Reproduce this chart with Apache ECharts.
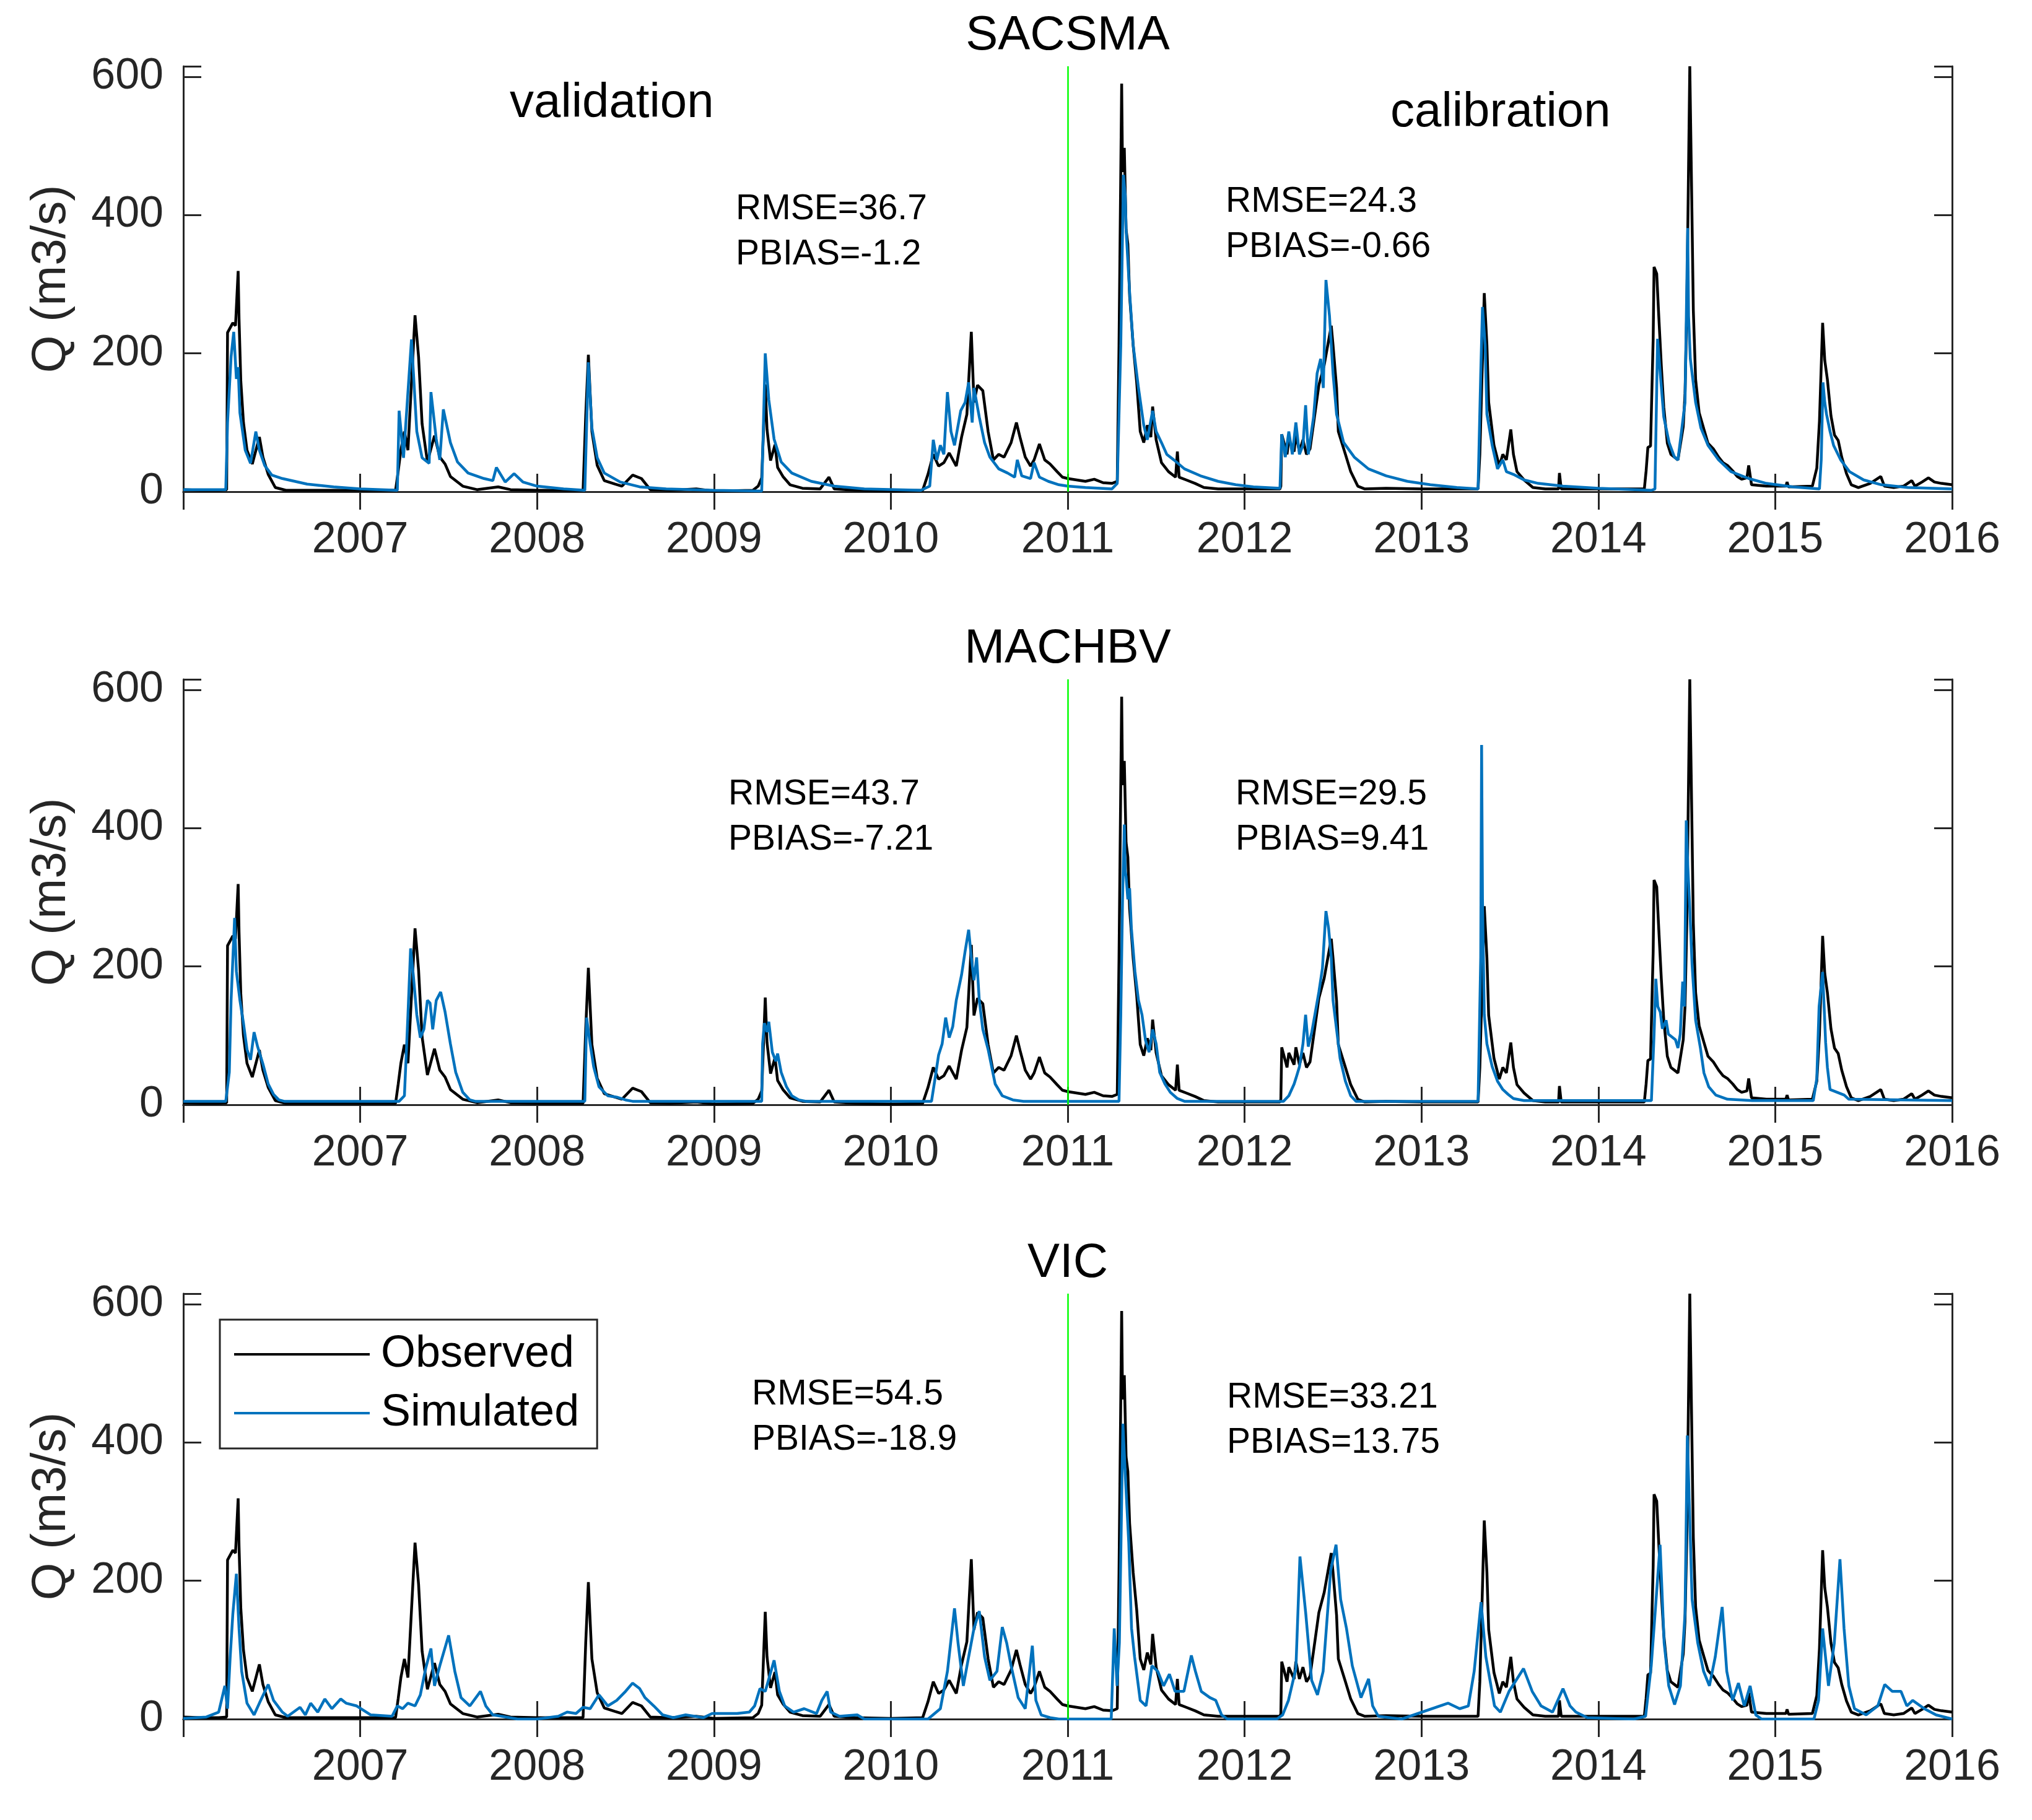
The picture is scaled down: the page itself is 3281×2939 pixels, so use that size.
<!DOCTYPE html>
<html>
<head>
<meta charset="utf-8">
<script src="https://cdn.jsdelivr.net/npm/echarts@6/dist/echarts.min.js"></script>
<style>
  html, body { margin: 0; padding: 0; background: #fff; }
  #chart { width: 3281px; height: 2939px; }
</style>
</head>
<body>
<div id="chart"></div>
<script>
// [decimal year, Q (m3/s)]
const observed = [
  [2006.00, 3], [2006.10, 2], [2006.20, 2], [2006.245, 3], [2006.25, 230], [2006.28, 244], [2006.295, 240],
  [2006.31, 319], [2006.315, 250], [2006.325, 160], [2006.34, 100], [2006.36, 60], [2006.39, 40], [2006.43, 79],
  [2006.45, 50], [2006.48, 25], [2006.52, 6], [2006.58, 2], [2006.80, 2], [2007.00, 2], [2007.20, 2],
  [2007.215, 30], [2007.23, 60], [2007.25, 87], [2007.27, 60], [2007.31, 255], [2007.33, 195], [2007.35, 98],
  [2007.38, 43], [2007.42, 81], [2007.45, 50], [2007.48, 40], [2007.51, 22], [2007.58, 8], [2007.66, 3],
  [2007.78, 7], [2007.85, 3], [2008.00, 2], [2008.26, 2], [2008.275, 110], [2008.29, 198], [2008.31, 87],
  [2008.34, 38], [2008.38, 16], [2008.44, 11], [2008.48, 8], [2008.54, 24], [2008.59, 19], [2008.64, 3],
  [2008.75, 2], [2008.90, 4], [2009.00, 1], [2009.22, 2], [2009.25, 8], [2009.27, 20], [2009.29, 155],
  [2009.30, 90], [2009.32, 45], [2009.345, 68], [2009.36, 35], [2009.39, 22], [2009.43, 10], [2009.50, 5],
  [2009.60, 4], [2009.65, 21], [2009.68, 4], [2009.80, 2], [2010.00, 1], [2010.18, 2], [2010.21, 25],
  [2010.24, 54], [2010.27, 37], [2010.30, 42], [2010.33, 56], [2010.37, 37], [2010.40, 79], [2010.43, 112],
  [2010.455, 231], [2010.47, 129], [2010.49, 154], [2010.52, 146], [2010.55, 87], [2010.58, 46], [2010.61, 54],
  [2010.64, 50], [2010.68, 71], [2010.71, 100], [2010.73, 79], [2010.76, 50], [2010.79, 37], [2010.81, 46],
  [2010.84, 69], [2010.87, 46], [2010.90, 40], [2010.94, 29], [2010.97, 21], [2011.00, 19], [2011.05, 17],
  [2011.10, 15], [2011.15, 18], [2011.20, 13], [2011.25, 12], [2011.28, 15], [2011.29, 212], [2011.305, 590],
  [2011.31, 462], [2011.32, 497], [2011.33, 379], [2011.34, 358], [2011.35, 283], [2011.37, 212], [2011.39, 158],
  [2011.41, 87], [2011.43, 71], [2011.45, 96], [2011.47, 79], [2011.48, 123], [2011.50, 75], [2011.53, 42],
  [2011.57, 29], [2011.61, 21], [2011.62, 58], [2011.63, 21], [2011.67, 17], [2011.72, 12], [2011.77, 6],
  [2011.85, 4], [2012.00, 4], [2012.20, 4], [2012.205, 8], [2012.21, 83], [2012.24, 54], [2012.25, 75],
  [2012.28, 58], [2012.29, 83], [2012.31, 58], [2012.33, 75], [2012.35, 54], [2012.37, 62], [2012.40, 117],
  [2012.42, 154], [2012.45, 183], [2012.49, 240], [2012.50, 212], [2012.52, 150], [2012.53, 87], [2012.57, 54],
  [2012.60, 29], [2012.64, 8], [2012.68, 4], [2012.80, 5], [2013.00, 4], [2013.32, 4], [2013.33, 54],
  [2013.345, 192], [2013.355, 287], [2013.37, 212], [2013.38, 129], [2013.41, 67], [2013.44, 37], [2013.46, 54],
  [2013.48, 46], [2013.505, 90], [2013.52, 54], [2013.54, 29], [2013.58, 17], [2013.63, 6], [2013.70, 4],
  [2013.775, 4], [2013.78, 27], [2013.79, 4], [2014.00, 4], [2014.26, 4], [2014.27, 30], [2014.28, 64],
  [2014.295, 66], [2014.31, 222], [2014.315, 325], [2014.33, 315], [2014.34, 262], [2014.356, 182], [2014.37, 122],
  [2014.39, 70], [2014.41, 54], [2014.43, 50], [2014.45, 46], [2014.46, 62], [2014.48, 94], [2014.49, 142],
  [2014.50, 262], [2014.517, 615], [2014.528, 423], [2014.537, 262], [2014.55, 162], [2014.57, 114], [2014.597, 90],
  [2014.62, 70], [2014.65, 62], [2014.68, 50], [2014.705, 42], [2014.73, 38], [2014.76, 30], [2014.785, 22],
  [2014.81, 18], [2014.84, 20], [2014.85, 38], [2014.866, 10], [2014.95, 8], [2015.06, 8], [2015.067, 14],
  [2015.075, 7], [2015.21, 8], [2015.235, 34], [2015.25, 102], [2015.268, 244], [2015.28, 190], [2015.295, 162],
  [2015.315, 110], [2015.335, 82], [2015.356, 74], [2015.376, 50], [2015.403, 26], [2015.43, 10], [2015.47, 6],
  [2015.537, 12], [2015.597, 22], [2015.617, 8], [2015.67, 6], [2015.725, 8], [2015.772, 16], [2015.79, 8],
  [2015.83, 14], [2015.866, 20], [2015.90, 14], [2015.94, 12], [2016.00, 10]
];

const simSACSMA = [
  [2006.00, 3], [2006.24, 3], [2006.25, 100], [2006.27, 195], [2006.285, 231], [2006.30, 163], [2006.31, 180],
  [2006.32, 114], [2006.35, 60], [2006.38, 41], [2006.41, 87], [2006.43, 60], [2006.46, 38], [2006.50, 24],
  [2006.56, 19], [2006.70, 11], [2006.85, 7], [2007.00, 4], [2007.21, 2], [2007.22, 117], [2007.245, 49],
  [2007.29, 220], [2007.32, 87], [2007.35, 49], [2007.39, 41], [2007.40, 144], [2007.43, 76], [2007.45, 46],
  [2007.47, 119], [2007.51, 71], [2007.55, 43], [2007.61, 27], [2007.70, 19], [2007.75, 16], [2007.77, 35],
  [2007.82, 14], [2007.87, 26], [2007.92, 14], [2008.00, 8], [2008.15, 4], [2008.27, 2], [2008.29, 187],
  [2008.31, 92], [2008.34, 49], [2008.38, 27], [2008.47, 14], [2008.58, 7], [2008.73, 4], [2009.00, 2],
  [2009.27, 1], [2009.29, 200], [2009.31, 133], [2009.34, 76], [2009.38, 43], [2009.44, 27], [2009.55, 15],
  [2009.68, 8], [2009.85, 4], [2010.17, 2], [2010.22, 8], [2010.24, 75], [2010.26, 46], [2010.28, 67],
  [2010.30, 54], [2010.32, 144], [2010.34, 87], [2010.36, 67], [2010.395, 117], [2010.42, 129], [2010.44, 158],
  [2010.46, 100], [2010.47, 150], [2010.50, 108], [2010.53, 71], [2010.56, 50], [2010.61, 33], [2010.66, 27],
  [2010.70, 21], [2010.715, 46], [2010.74, 23], [2010.79, 19], [2010.81, 42], [2010.84, 21], [2010.89, 15],
  [2010.95, 10], [2011.00, 8], [2011.10, 6], [2011.25, 4], [2011.28, 12], [2011.30, 212], [2011.315, 458],
  [2011.325, 429], [2011.33, 379], [2011.35, 288], [2011.37, 212], [2011.40, 150], [2011.43, 96], [2011.45, 75],
  [2011.48, 117], [2011.50, 87], [2011.53, 71], [2011.56, 54], [2011.60, 46], [2011.66, 33], [2011.75, 23],
  [2011.85, 15], [2011.95, 10], [2012.05, 7], [2012.20, 5], [2012.21, 83], [2012.23, 50], [2012.25, 87],
  [2012.27, 54], [2012.29, 100], [2012.31, 54], [2012.33, 67], [2012.345, 125], [2012.36, 54], [2012.39, 108],
  [2012.41, 171], [2012.43, 192], [2012.445, 150], [2012.46, 306], [2012.48, 254], [2012.50, 171], [2012.52, 112],
  [2012.56, 71], [2012.62, 50], [2012.70, 33], [2012.80, 23], [2012.92, 15], [2013.05, 10], [2013.20, 6],
  [2013.32, 4], [2013.335, 171], [2013.345, 267], [2013.36, 212], [2013.37, 112], [2013.40, 67], [2013.43, 33],
  [2013.46, 46], [2013.48, 29], [2013.52, 25], [2013.58, 17], [2013.66, 12], [2013.80, 8], [2014.00, 5],
  [2014.30, 2], [2014.32, 4], [2014.33, 150], [2014.335, 221], [2014.35, 171], [2014.37, 108], [2014.40, 71],
  [2014.43, 50], [2014.45, 46], [2014.47, 87], [2014.49, 129], [2014.505, 381], [2014.51, 254], [2014.52, 192],
  [2014.55, 129], [2014.58, 92], [2014.62, 67], [2014.68, 46], [2014.75, 29], [2014.85, 19], [2014.95, 12],
  [2015.10, 7], [2015.25, 4], [2015.26, 46], [2015.27, 158], [2015.28, 129], [2015.29, 112], [2015.31, 87],
  [2015.33, 67], [2015.37, 46], [2015.42, 29], [2015.50, 17], [2015.60, 10], [2015.75, 6], [2016.00, 4]
];

const simMACHBV = [
  [2006.00, 5], [2006.24, 5], [2006.26, 47], [2006.27, 151], [2006.29, 270], [2006.30, 193], [2006.32, 151],
  [2006.34, 118], [2006.36, 80], [2006.38, 65], [2006.40, 105], [2006.42, 84], [2006.45, 59], [2006.48, 30],
  [2006.51, 15], [2006.54, 7], [2006.57, 5], [2007.22, 5], [2007.25, 13], [2007.27, 130], [2007.285, 226],
  [2007.30, 188], [2007.32, 130], [2007.34, 97], [2007.36, 109], [2007.38, 151], [2007.395, 147], [2007.41, 109],
  [2007.43, 151], [2007.455, 163], [2007.48, 134], [2007.51, 88], [2007.54, 47], [2007.58, 18], [2007.62, 7],
  [2007.65, 5], [2008.27, 5], [2008.28, 126], [2008.30, 88], [2008.32, 55], [2008.35, 26], [2008.40, 13],
  [2008.45, 11], [2008.50, 7], [2008.54, 5], [2009.27, 5], [2009.275, 88], [2009.285, 118], [2009.30, 105],
  [2009.31, 120], [2009.33, 76], [2009.35, 63], [2009.36, 74], [2009.38, 47], [2009.41, 26], [2009.44, 13],
  [2009.48, 7], [2009.52, 5], [2010.23, 5], [2010.25, 38], [2010.27, 72], [2010.29, 88], [2010.31, 126],
  [2010.33, 97], [2010.35, 113], [2010.37, 151], [2010.40, 188], [2010.42, 222], [2010.44, 253], [2010.455, 213],
  [2010.47, 180], [2010.485, 213], [2010.50, 151], [2010.52, 109], [2010.55, 80], [2010.57, 55], [2010.59, 30],
  [2010.63, 13], [2010.69, 7], [2010.75, 5], [2011.29, 5], [2011.30, 130], [2011.31, 297], [2011.32, 405],
  [2011.325, 338], [2011.33, 330], [2011.34, 297], [2011.35, 313], [2011.36, 255], [2011.38, 193], [2011.40, 151],
  [2011.42, 130], [2011.44, 93], [2011.46, 76], [2011.48, 109], [2011.50, 88], [2011.52, 47], [2011.55, 30],
  [2011.58, 18], [2011.62, 9], [2011.66, 5], [2012.22, 5], [2012.25, 13], [2012.28, 30], [2012.29, 38],
  [2012.31, 55], [2012.33, 88], [2012.345, 130], [2012.36, 84], [2012.38, 105], [2012.40, 134], [2012.42, 163],
  [2012.44, 197], [2012.46, 280], [2012.475, 255], [2012.49, 213], [2012.50, 151], [2012.52, 109], [2012.54, 67],
  [2012.57, 34], [2012.60, 13], [2012.63, 5], [2013.32, 5], [2013.335, 213], [2013.34, 520], [2013.345, 297],
  [2013.355, 130], [2013.37, 88], [2013.40, 55], [2013.43, 34], [2013.46, 22], [2013.49, 15], [2013.52, 9],
  [2013.58, 6], [2014.30, 6], [2014.315, 102], [2014.325, 182], [2014.336, 142], [2014.35, 134], [2014.362, 110],
  [2014.383, 122], [2014.396, 102], [2014.416, 98], [2014.436, 94], [2014.45, 82], [2014.463, 102], [2014.477, 178],
  [2014.487, 142], [2014.497, 411], [2014.506, 343], [2014.517, 283], [2014.53, 202], [2014.55, 122], [2014.577, 82],
  [2014.597, 46], [2014.624, 26], [2014.664, 14], [2014.73, 8], [2014.87, 6], [2015.215, 6], [2015.235, 38],
  [2015.248, 142], [2015.268, 192], [2015.285, 90], [2015.295, 54], [2015.31, 22], [2015.35, 18], [2015.39, 14],
  [2015.416, 8], [2016.00, 6]
];

const simVIC = [
  [2006.00, 1], [2006.13, 3], [2006.20, 10], [2006.235, 48], [2006.25, 15], [2006.265, 90], [2006.28, 152],
  [2006.30, 210], [2006.315, 131], [2006.33, 69], [2006.36, 23], [2006.40, 6], [2006.43, 23], [2006.48, 50],
  [2006.51, 27], [2006.56, 10], [2006.59, 4], [2006.66, 17], [2006.69, 6], [2006.72, 23], [2006.76, 10],
  [2006.80, 29], [2006.84, 15], [2006.89, 29], [2006.92, 23], [2006.98, 19], [2007.06, 6], [2007.18, 4],
  [2007.21, 19], [2007.24, 15], [2007.27, 23], [2007.31, 19], [2007.34, 35], [2007.37, 73], [2007.40, 102],
  [2007.42, 48], [2007.45, 77], [2007.50, 121], [2007.535, 69], [2007.57, 31], [2007.62, 19], [2007.68, 40],
  [2007.71, 19], [2007.75, 6], [2007.80, 4], [2007.89, 0], [2008.00, 0], [2008.12, 4], [2008.17, 10],
  [2008.22, 8], [2008.26, 17], [2008.30, 15], [2008.35, 35], [2008.40, 19], [2008.45, 27], [2008.50, 40],
  [2008.54, 52], [2008.58, 44], [2008.61, 31], [2008.66, 19], [2008.71, 6], [2008.77, 2], [2008.84, 6],
  [2008.94, 2], [2008.99, 8], [2009.13, 8], [2009.20, 10], [2009.23, 19], [2009.26, 44], [2009.29, 40],
  [2009.34, 85], [2009.37, 40], [2009.40, 19], [2009.45, 10], [2009.51, 15], [2009.58, 8], [2009.61, 27],
  [2009.64, 40], [2009.66, 10], [2009.71, 4], [2009.81, 6], [2009.85, 0], [2010.21, 0], [2010.28, 15],
  [2010.32, 69], [2010.36, 160], [2010.38, 110], [2010.41, 48], [2010.44, 90], [2010.47, 131], [2010.50, 156],
  [2010.53, 90], [2010.56, 56], [2010.60, 69], [2010.63, 133], [2010.655, 110], [2010.68, 77], [2010.72, 31],
  [2010.76, 15], [2010.80, 106], [2010.82, 27], [2010.85, 6], [2010.90, 2], [2010.95, 0], [2011.246, 0],
  [2011.263, 131], [2011.279, 48], [2011.292, 110], [2011.312, 427], [2011.328, 340], [2011.345, 256],
  [2011.361, 131], [2011.378, 90], [2011.41, 27], [2011.443, 19], [2011.476, 77], [2011.509, 69], [2011.542, 48],
  [2011.575, 65], [2011.607, 40], [2011.657, 40], [2011.699, 92], [2011.722, 69], [2011.755, 40], [2011.804, 31],
  [2011.837, 27], [2011.87, 6], [2011.903, 0], [2012.182, 0], [2012.215, 6], [2012.248, 27], [2012.29, 73],
  [2012.313, 235], [2012.346, 152], [2012.379, 56], [2012.412, 35], [2012.444, 69], [2012.487, 215],
  [2012.517, 252], [2012.543, 173], [2012.576, 131], [2012.609, 77], [2012.658, 31], [2012.701, 58],
  [2012.724, 19], [2012.756, 4], [2012.888, 0], [2013.15, 23], [2013.216, 15], [2013.265, 19], [2013.298, 69],
  [2013.337, 169], [2013.364, 90], [2013.413, 19], [2013.446, 10], [2013.495, 40], [2013.577, 73], [2013.626, 40],
  [2013.676, 19], [2013.741, 10], [2013.80, 44], [2013.84, 19], [2013.873, 10], [2013.938, 2], [2014.201, 0],
  [2014.267, 4], [2014.299, 77], [2014.349, 252], [2014.372, 110], [2014.398, 48], [2014.431, 21], [2014.464, 48],
  [2014.49, 152], [2014.503, 410], [2014.53, 173], [2014.562, 110], [2014.595, 69], [2014.628, 48], [2014.661, 90],
  [2014.70, 162], [2014.726, 69], [2014.759, 27], [2014.792, 52], [2014.825, 19], [2014.858, 48], [2014.89, 6],
  [2014.923, 0], [2015.219, 0], [2015.245, 27], [2015.268, 131], [2015.301, 48], [2015.334, 110], [2015.366, 231],
  [2015.389, 131], [2015.416, 48], [2015.448, 15], [2015.514, 6], [2015.58, 19], [2015.619, 50], [2015.662, 40],
  [2015.711, 40], [2015.744, 19], [2015.777, 27], [2015.843, 15], [2015.909, 6], [2016.00, 0]
];

const panelTitles = ["SACSMA", "MACHBV", "VIC"];
const simulated = [simSACSMA, simMACHBV, simVIC];
const statsValidation = [["RMSE=36.7", "PBIAS=-1.2"], ["RMSE=43.7", "PBIAS=-7.21"], ["RMSE=54.5", "PBIAS=-18.9"]];
const statsCalibration = [["RMSE=24.3", "PBIAS=-0.66"], ["RMSE=29.5", "PBIAS=9.41"], ["RMSE=33.21", "PBIAS=13.75"]];
const yearMin = 2006;
const yearMax = 2016;
const splitYear = 2011;
const qMax = 615;

const FONT = "'Liberation Sans', Arial, Helvetica, sans-serif";
const AXIS_COLOR = "#262626";
const GRID_LEFT = 296;
const GRID_WIDTH = 2856;
const GRID_TOPS = [107, 1097, 2089];
const GRID_HEIGHT = 687;
const LINE_W = 4.5;

// text positions: [left x, middle y] per panel
const valPos = [[1188, 338], [1176, 1283], [1214, 2252]];
const calPos = [[1979, 326], [1995, 1283], [1981, 2257]];

const chart = echarts.init(document.getElementById("chart"));

function axisCommon() {
  return {
    axisLine: { show: true, lineStyle: { color: AXIS_COLOR, width: 3 } },
    axisTick: { show: true, inside: true, length: 29, lineStyle: { color: AXIS_COLOR, width: 3 } },
    splitLine: { show: false }
  };
}

const grids = [];
const xAxes = [];
const yAxes = [];
const series = [];
const graphics = [];

for (let i = 0; i < 3; i++) {
  grids.push({ left: GRID_LEFT, top: GRID_TOPS[i], width: GRID_WIDTH, height: GRID_HEIGHT });
}
// bottom / left axes with labels
for (let i = 0; i < 3; i++) {
  xAxes.push(Object.assign(axisCommon(), {
    type: "value", gridIndex: i, position: "bottom",
    min: yearMin, max: yearMax, interval: 1,
    axisLabel: {
      fontSize: 70, color: AXIS_COLOR, fontFamily: FONT, margin: 44,
      formatter: v => (v === yearMin ? "" : String(v))
    }
  }));
  yAxes.push(Object.assign(axisCommon(), {
    type: "value", gridIndex: i, position: "left",
    min: 0, max: qMax, interval: 200,
    name: "Q (m3/s)", nameLocation: "middle", nameGap: 174,
    nameTextStyle: { fontSize: 78, color: AXIS_COLOR, fontFamily: FONT },
    axisLabel: {
      fontSize: 70, color: AXIS_COLOR, fontFamily: FONT, margin: 32,
      formatter: v => (v % 200 === 0 ? String(v) : "")
    }
  }));
}
// top / right axes: box with inward ticks, no labels
for (let i = 0; i < 3; i++) {
  xAxes.push(Object.assign(axisCommon(), {
    type: "value", gridIndex: i, position: "top",
    min: yearMin, max: yearMax, interval: 1, axisLabel: { show: false }
  }));
  yAxes.push(Object.assign(axisCommon(), {
    type: "value", gridIndex: i, position: "right",
    min: 0, max: qMax, interval: 200, axisLabel: { show: false }
  }));
}

for (let i = 0; i < 3; i++) {
  series.push({
    name: "Observed", type: "line", xAxisIndex: i, yAxisIndex: i,
    data: observed, showSymbol: false, symbol: "none",
    color: "#000000", lineStyle: { color: "#000000", width: LINE_W },
    z: 2
  });
  series.push({
    name: "Simulated", type: "line", xAxisIndex: i, yAxisIndex: i,
    data: simulated[i], showSymbol: false, symbol: "none",
    color: "#0072BD", lineStyle: { color: "#0072BD", width: LINE_W },
    z: 3,
    markLine: {
      silent: true, symbol: "none", label: { show: false },
      lineStyle: { color: "#00FF00", width: 2.5, type: "solid" },
      data: [{ xAxis: splitYear }]
    }
  });

  graphics.push({
    type: "text", x: GRID_LEFT + GRID_WIDTH / 2, y: GRID_TOPS[i] - 49,
    style: { text: panelTitles[i], font: "78px " + FONT, fill: "#000", textAlign: "center", textVerticalAlign: "middle" }
  });
  [statsValidation[i], statsCalibration[i]].forEach((lines, k) => {
    const pos = k === 0 ? valPos[i] : calPos[i];
    lines.forEach((txt, j) => {
      graphics.push({
        type: "text", x: pos[0], y: pos[1] + j * 73,
        style: { text: txt, font: "57px " + FONT, fill: "#000", textAlign: "left", textVerticalAlign: "middle" }
      });
    });
  });
}

graphics.push({
  type: "text", x: 823, y: 167,
  style: { text: "validation", font: "78px " + FONT, fill: "#000", textAlign: "left", textVerticalAlign: "middle" }
});
graphics.push({
  type: "text", x: 2245, y: 182,
  style: { text: "calibration", font: "78px " + FONT, fill: "#000", textAlign: "left", textVerticalAlign: "middle" }
});

const option = {
  backgroundColor: "#ffffff",
  animation: false,
  grid: grids,
  xAxis: xAxes,
  yAxis: yAxes,
  legend: {
    data: ["Observed", "Simulated"],
    orient: "vertical",
    left: 355, top: 2131,
    icon: "rect",
    itemWidth: 219, itemHeight: 4, itemGap: 23,
    padding: [20, 29, 21, 23],
    borderColor: AXIS_COLOR, borderWidth: 3,
    backgroundColor: "#ffffff",
    selectedMode: false,
    itemStyle: { borderWidth: 0 },
    textStyle: { fontSize: 72, lineHeight: 72, color: "#000", fontFamily: FONT, padding: [0, 0, 0, 13] }
  },
  graphic: graphics,
  series: series
};

chart.setOption(option);
</script>
</body>
</html>
